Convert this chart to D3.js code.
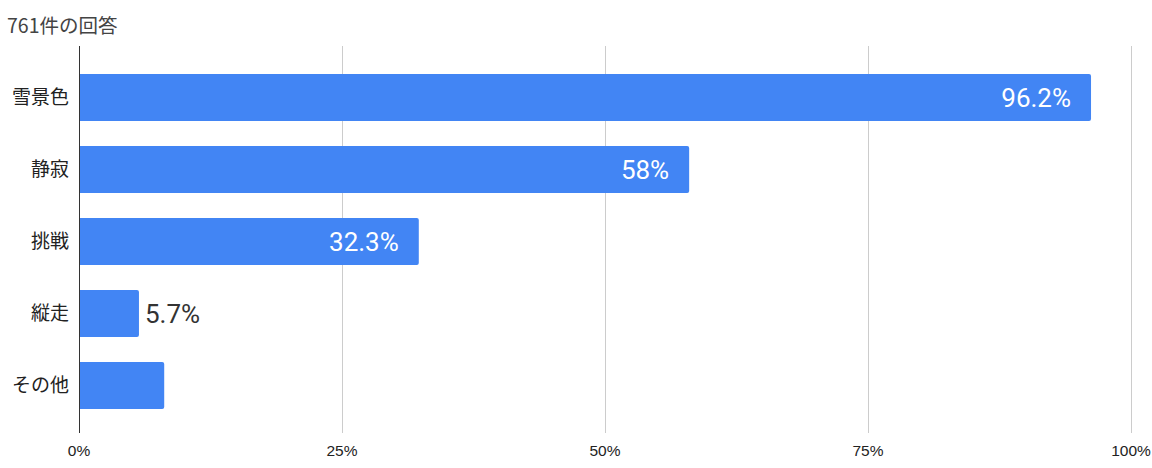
<!DOCTYPE html>
<html><head><meta charset="utf-8">
<script src="https://cdn.jsdelivr.net/npm/d3@7"></script>
<style>html,body{margin:0;padding:0;background:#fff;}</style>
</head><body>
<svg id="c" width="1152" height="468"></svg>
<script>
const categories = ["雪景色","静寂","挑戦","縦走","その他"];
const values = [96.2, 58, 32.3, 5.7, 8.1];
const valueLabels = ["96.2%","58%","32.3%","5.7%",""];
const tickValues = [0,25,50,75,100];
const tickLabels = ["0%","25%","50%","75%","100%"];
const title = "761件の回答";

const svg = d3.select("#c");
const x = d3.scaleLinear().domain([0,100]).range([79,1131]);
const y = d3.scaleBand().domain(categories).range([61.5,421.5]).paddingInner(0.35).paddingOuter(0.175);
const gridTop = 46, gridBottom = 433;

svg.append("text").attr("x",7).attr("y",33)
  .attr("font-family","Noto Sans CJK JP, sans-serif").attr("font-size",19.5).attr("fill","#444")
  .text(title);

// gridlines
svg.append("g").selectAll("line").data(tickValues.slice(1)).join("line")
  .attr("x1",d=>x(d)+0.5).attr("x2",d=>x(d)+0.5).attr("y1",gridTop).attr("y2",gridBottom)
  .attr("stroke","#ccc").attr("stroke-width",1);

// tick labels
svg.append("g").selectAll("text").data(tickValues).join("text")
  .attr("x",d=>x(d)).attr("y",456).attr("text-anchor","middle")
  .attr("font-family","Liberation Sans, Arial, sans-serif").attr("font-size",15.5).attr("fill","#222")
  .text((d,i)=>tickLabels[i]);

// bars with rounded right end
const r = 2;
svg.append("g").selectAll("path").data(categories).join("path")
  .attr("fill","#4285f4")
  .attr("d",(c,i)=>{
    const x0 = x(0), x1 = x(values[i]), y0 = y(c), h = y.bandwidth();
    return `M${x0},${y0}H${x1-r}Q${x1},${y0} ${x1},${y0+r}V${y0+h-r}Q${x1},${y0+h} ${x1-r},${y0+h}H${x0}Z`;
  });

// axis line
svg.append("line").attr("x1",x(0)+0.5).attr("x2",x(0)+0.5).attr("y1",gridTop).attr("y2",gridBottom)
  .attr("stroke","#333").attr("stroke-width",1);

// category labels
svg.append("g").selectAll("text").data(categories).join("text")
  .attr("x",69).attr("y",c=>y(c)+y.bandwidth()/2).attr("dy","0.36em").attr("text-anchor","end")
  .attr("font-family","Noto Sans CJK JP, sans-serif").attr("font-size",19).attr("fill","#222")
  .text(c=>c);

// value labels
svg.append("g").selectAll("text").data(categories).join("text")
  .attr("font-family","Roboto, sans-serif").attr("font-size",26)
  .attr("y",c=>y(c)+y.bandwidth()/2).attr("dy","0.36em")
  .each(function(c,i){
    const t = d3.select(this);
    const inside = values[i] > 20;
    if(inside){
      t.attr("x",x(values[i])-20).attr("text-anchor","end").attr("fill","#fff");
    } else {
      t.attr("x",x(values[i])+6).attr("text-anchor","start").attr("fill","#333");
    }
    t.text(valueLabels[i]);
  });
</script>
</body></html>
